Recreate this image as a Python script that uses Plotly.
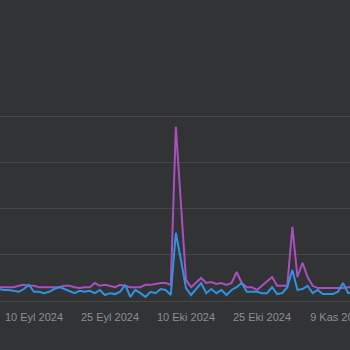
import plotly.graph_objects as go
import pandas as pd

dates = pd.date_range("2024-09-03", "2024-11-12", freq="D")

purple_vals = [30, 30, 30, 30, 33, 35, 33, 33, 30, 30,
               30, 30, 30, 33, 33, 30, 28, 30, 30, 39,
               33, 35, 33, 30, 35, 33, 30, 30, 30, 35,
               35, 37, 39, 39, 35, 378, 220, 46, 30, 39,
               50, 39, 41, 37, 39, 35, 39, 63, 39, 30,
               30, 24, 33, 43, 52, 33, 33, 33, 161, 52,
               83, 52, 33, 28, 28, 28, 28, 28, 28, 30, 30]

blue_vals = [26, 24, 24, 22, 20, 26, 35, 20, 20, 17,
             20, 26, 30, 26, 22, 17, 22, 20, 22, 17,
             24, 13, 17, 15, 20, 35, 9, 24, 17, 9,
             20, 17, 26, 24, 13, 148, 89, 28, 13, 26,
             39, 17, 26, 17, 24, 13, 24, 30, 39, 20,
             20, 20, 17, 17, 30, 15, 17, 30, 67, 24,
             26, 33, 17, 24, 15, 15, 15, 20, 39, 17, 20]

tick_dates = ["2024-09-10", "2024-09-25", "2024-10-10", "2024-10-25", "2024-11-09"]
tick_labels = ["10 Eyl 2024", "25 Eyl 2024", "10 Eki 2024", "25 Eki 2024", "9 Kas 2024"]

fig = go.Figure()
fig.add_trace(go.Scatter(x=dates, y=purple_vals, mode="lines",
                         line=dict(color="#a94fc0", width=2), showlegend=False))
fig.add_trace(go.Scatter(x=dates, y=blue_vals, mode="lines",
                         line=dict(color="#2e94e2", width=2), showlegend=False))

bg = "#323335"
fig.update_layout(
    width=350, height=350,
    paper_bgcolor=bg, plot_bgcolor=bg,
    margin=dict(l=0, r=0, t=112, b=49, autoexpand=False),
    font=dict(family="Liberation Sans, Arial, sans-serif", size=11, color="#8e8f93"),
    xaxis=dict(range=["2024-09-03 07:00", "2024-11-11 09:00"],
               tickvals=tick_dates, ticktext=tick_labels,
               showgrid=False, zeroline=False, showline=False,
               ticks="outside", ticklen=6, tickcolor=bg,
               automargin=False, ticklabeloverflow="allow"),
    yaxis=dict(range=[0, 410], tickvals=[0, 100, 200, 300, 400], showticklabels=False,
               gridcolor="#46474a", gridwidth=1, zeroline=True,
               zerolinecolor="#46474a", zerolinewidth=1, showline=False,
               automargin=False),
)

fig.write_html("out.html")
